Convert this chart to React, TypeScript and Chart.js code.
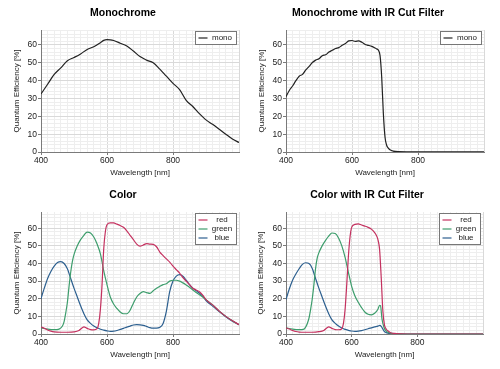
import React, { useEffect, useRef } from 'react';
import { Chart, registerables } from 'chart.js';
Chart.register(...registerables);

const FONT = "'Liberation Sans', Arial, Helvetica, sans-serif";

// ---- axis / tick labels ----
const X_MIN = 400;
const X_MAX = 1000;
const X_LABELS = [400, 600, 800];
const Y_LABELS = [0, 10, 20, 30, 40, 50, 60];
const X_MINOR_STEP = 20;
const Y_MINOR_STEP = 2;
const X_TITLE = 'Wavelength [nm]';
const Y_TITLE = 'Quantum Efficiency [%]';

// ---- Monochrome ----
const monoWl = [400, 420, 440, 460, 480, 500, 520, 540, 560, 580, 590, 600, 610, 620, 640, 660, 680, 700, 720, 740, 760, 780, 800, 820, 840, 860, 880, 900, 920, 940, 960, 980, 1000];
const monoQe = [32.5, 38, 43.5, 47.2, 51.2, 53, 55, 57.5, 59, 61.3, 62.6, 63, 62.9, 62.5, 61, 59.4, 56.6, 53.5, 51.5, 50, 46.5, 42.5, 38.5, 35, 29, 25.5, 21.5, 18, 15.5, 12.8, 10, 7.3, 5.3];

// ---- Monochrome with IR cut filter ----
const monoIrWl = [400, 410, 420, 430, 440, 450, 460, 470, 480, 490, 500, 510, 520, 530, 540, 550, 560, 570, 580, 590, 600, 610, 620, 630, 640, 650, 660, 670, 675, 680, 685, 690, 695, 700, 705, 710, 715, 725, 740, 800, 900, 1000];
const monoIrQe = [31, 34.5, 37, 40, 42.5, 43.5, 46, 48, 50.2, 51.5, 52.3, 54, 54.5, 56, 57, 58, 58.5, 59.8, 60.8, 62.3, 62.5, 62, 62.3, 61.5, 60.3, 59.8, 59.2, 58.3, 57.8, 57, 54, 42, 21.6, 8.4, 3.8, 2.2, 1.3, 0.5, 0.2, 0.1, 0.1, 0.1];

// ---- Color ----
const redWl = [400, 410, 420, 430, 440, 460, 480, 500, 515, 525, 530, 540, 550, 560, 570, 575, 580, 585, 590, 595, 600, 610, 620, 630, 640, 650, 660, 670, 680, 690, 700, 710, 720, 730, 740, 750, 760, 770, 780, 790, 800, 810, 820, 830, 840, 850, 860, 870, 880, 890, 900, 920, 940, 960, 980, 1000];
const redQe = [4, 3.2, 2.3, 1.6, 1.2, 1, 1, 1.2, 2, 3.5, 4, 3.2, 2.5, 2.3, 3, 6, 14, 28, 48, 58, 62, 63, 63, 62.3, 61.5, 60.5, 58.5, 56, 53.5, 51, 49.8, 50.5, 51.3, 51, 50.8, 49.5, 46.5, 44.5, 42.6, 40.8, 38.5, 36.5, 34.5, 32, 30, 28, 26, 25, 24, 22, 19.5, 16.5, 13, 10, 7.5, 5.3];
const greenWl = [400, 420, 440, 455, 465, 470, 475, 480, 485, 490, 495, 500, 510, 520, 530, 540, 550, 560, 570, 580, 590, 600, 610, 620, 630, 640, 650, 660, 670, 680, 690, 700, 710, 720, 730, 740, 750, 760, 770, 780, 790, 800, 810, 820, 830, 840, 850, 860, 870, 880, 890, 900, 920, 940, 960, 980, 1000];
const greenQe = [3.5, 2.8, 2.5, 2.8, 4.5, 7, 12, 18, 27, 35, 41, 45, 50, 53.5, 56, 57.8, 57.3, 55, 51, 45.5, 36, 28, 21, 17, 14.5, 12.5, 11.5, 11.5, 13.5, 17.5, 21, 23, 24, 23.5, 23, 24.5, 26, 27, 28, 28.5, 30, 30.5, 30.5, 30, 29, 27.8, 26.5, 25, 23.5, 22.3, 21, 19.5, 16.5, 13, 10, 7.5, 5.2];
const blueWl = [400, 410, 420, 430, 440, 450, 460, 470, 480, 490, 500, 510, 520, 530, 540, 550, 560, 570, 580, 590, 600, 610, 620, 630, 640, 650, 660, 670, 680, 690, 700, 710, 720, 730, 740, 750, 760, 770, 780, 790, 800, 810, 820, 830, 840, 850, 860, 870, 880, 890, 900, 920, 940, 960, 980, 1000];
const blueQe = [20, 26, 31.5, 35.5, 38.5, 40.5, 41, 40, 37, 31.5, 26, 21, 16, 11.5, 8, 6, 4.5, 3.5, 2.7, 2.2, 1.8, 1.5, 1.6, 2, 2.6, 3.2, 3.9, 4.5, 5.1, 5.3, 5.2, 4.9, 4.3, 3.6, 3.3, 3.3, 3.8, 6, 13, 24, 30, 32.8, 33.7, 32.8, 30.5, 28, 26, 24.6, 23.2, 21.5, 19, 15.8, 12.8, 9.8, 7.3, 5.3];

// ---- Color with IR cut filter ----
const redIrWl = [400, 410, 420, 430, 440, 460, 480, 500, 515, 525, 530, 540, 550, 560, 570, 575, 580, 585, 590, 595, 600, 610, 620, 630, 640, 650, 660, 670, 675, 680, 685, 690, 695, 700, 705, 710, 720, 730, 750, 800, 900, 1000];
const redIrQe = [3.5, 2.8, 2, 1.4, 1.1, 1, 1, 1.3, 2, 3.5, 4, 3.2, 2.5, 2.4, 3, 6, 14, 28, 44, 55, 60.5, 62.2, 62.5, 61.8, 61.2, 60.5, 59.5, 57.5, 56, 53.5, 48, 32, 13, 5, 2.8, 1.8, 0.6, 0.3, 0.1, 0, 0, 0];
const greenIrWl = [400, 420, 440, 455, 460, 465, 470, 475, 480, 485, 490, 495, 500, 510, 520, 530, 540, 550, 560, 570, 580, 590, 600, 610, 620, 630, 640, 650, 660, 670, 680, 685, 688, 692, 695, 700, 705, 710, 720, 740, 800, 1000];
const greenIrQe = [3.5, 2.8, 2.5, 2.8, 4, 6, 9, 14, 20, 28, 37, 43, 46, 50, 53, 55.5, 57.3, 57, 54.5, 50, 43.5, 35, 27, 21.5, 18, 15, 12.5, 11.2, 10.9, 11.8, 14, 16.3, 16, 9, 6, 3, 1.8, 1, 0.4, 0.1, 0, 0];
const blueIrWl = [400, 410, 420, 430, 440, 450, 460, 470, 480, 490, 500, 510, 520, 530, 540, 550, 560, 570, 580, 590, 600, 610, 620, 630, 640, 650, 660, 670, 680, 686, 690, 695, 700, 705, 710, 720, 740, 800, 1000];
const blueIrQe = [19.5, 25.5, 30.5, 34, 37, 39.5, 40.4, 40, 37.2, 31.5, 26, 21, 16, 11.5, 8, 6, 4.5, 3.4, 2.6, 2.1, 1.7, 1.5, 1.6, 1.9, 2.4, 3, 3.5, 4, 4.5, 4.9, 4.3, 2.8, 1.3, 0.8, 0.5, 0.3, 0.1, 0, 0];

// ---- styles ----
const MONO = '#222222';
const RED = '#c4315f';
const GREEN = '#3d9d6c';
const BLUE = '#2c5f8f';
const MAJOR_GRID = '#d9d9d9';
const MINOR_GRID = '#eeeeee';
const AXIS = '#7a7a7a';

type Series = { label: string; color: string; wl: number[]; qe: number[] };
type PanelCfg = { title: string; series: Series[]; left: number; top: number; padL: number; padR: number; yAxisW: number; yMax: number };

function gridValues(min: number, max: number, step: number) {
  const out: { value: number }[] = [];
  for (let v = min; v <= max + 1e-9; v += step) out.push({ value: Math.round(v * 1000) / 1000 });
  return out;
}

const boxLegend = {
  id: 'boxLegend',
  afterDatasetsDraw(chart: any) {
    const { ctx, chartArea } = chart;
    const ds = chart.data.datasets;
    const rowH = 9;
    const boxW = 41;
    const boxH = ds.length * rowH + 4;
    const x1 = Math.round(chartArea.right - 3 - boxW) + 0.5;
    const y1 = Math.round(chartArea.top + 1) + 0.5;
    ctx.save();
    ctx.fillStyle = '#ffffff';
    ctx.fillRect(x1, y1, boxW, boxH);
    ctx.strokeStyle = '#777777';
    ctx.lineWidth = 1;
    ctx.strokeRect(x1, y1, boxW, boxH);
    ctx.font = `8px ${FONT}`;
    ctx.textAlign = 'center';
    ctx.textBaseline = 'middle';
    ds.forEach((d: any, i: number) => {
      const cy = y1 + 2 + rowH * (i + 0.5);
      ctx.strokeStyle = d.borderColor;
      ctx.lineWidth = 1.2;
      ctx.beginPath();
      ctx.moveTo(x1 + 3, cy);
      ctx.lineTo(x1 + 12, cy);
      ctx.stroke();
      ctx.fillStyle = '#222222';
      ctx.fillText(d.label, x1 + 26.5, cy);
    });
    ctx.restore();
  },
};

function Panel({ cfg }: { cfg: PanelCfg }) {
  const ref = useRef<HTMLCanvasElement | null>(null);
  useEffect(() => {
    const tickFont = { family: FONT, size: 8.5 };
    const titleFont = { family: FONT, size: 8 };
    const chart = new Chart(ref.current as HTMLCanvasElement, {
      type: 'line',
      data: {
        datasets: cfg.series.map((s) => ({
          label: s.label,
          data: s.wl.map((x, i) => ({ x, y: s.qe[i] })),
          borderColor: s.color,
          backgroundColor: s.color,
          borderWidth: 1.2,
          pointRadius: 0,
          cubicInterpolationMode: 'monotone',
          fill: false,
        })),
      },
      options: {
        responsive: false,
        animation: false,
        devicePixelRatio: 1,
        layout: { padding: { left: cfg.padL, right: cfg.padR, top: 0, bottom: 0 } },
        plugins: {
          legend: { display: false },
          tooltip: { enabled: false },
          title: {
            display: true,
            text: cfg.title,
            color: '#000000',
            font: { family: FONT, size: 10.5, weight: 'bold' },
            padding: { top: 6.7, bottom: 10.7 },
          },
        },
        scales: {
          x: {
            type: 'linear',
            min: X_MIN,
            max: X_MAX,
            afterBuildTicks: (s: any) => { s.ticks = gridValues(X_MIN, X_MAX, X_MINOR_STEP); },
            afterFit: (s: any) => { s.height = 33; },
            ticks: {
              autoSkip: false,
              maxRotation: 0,
              padding: 1,
              color: '#222222',
              font: tickFont,
              callback: (v: any) => (X_LABELS.includes(Number(v)) ? String(v) : ''),
            },
            grid: {
              color: (c: any) => (c.tick && c.tick.value % 200 === 0 ? MAJOR_GRID : MINOR_GRID),
              tickColor: (c: any) => (c.tick && X_LABELS.includes(c.tick.value) ? AXIS : 'rgba(0,0,0,0)'),
              tickLength: 3,
              lineWidth: 1,
            },
            border: { color: AXIS, width: 1 },
            title: { display: true, text: X_TITLE, color: '#222222', font: titleFont, padding: { top: 0, bottom: 7.2 } },
          },
          y: {
            type: 'linear',
            min: 0,
            max: cfg.yMax,
            afterBuildTicks: (s: any) => { s.ticks = gridValues(0, cfg.yMax, Y_MINOR_STEP); },
            afterFit: (s: any) => { s.width = cfg.yAxisW; },
            ticks: {
              autoSkip: false,
              padding: 1,
              color: '#222222',
              font: tickFont,
              callback: (v: any) => (Y_LABELS.includes(Number(v)) ? String(v) : ''),
            },
            grid: {
              color: (c: any) => (c.tick && c.tick.value % 10 === 0 ? MAJOR_GRID : MINOR_GRID),
              tickColor: (c: any) => (c.tick && Y_LABELS.includes(c.tick.value) ? AXIS : 'rgba(0,0,0,0)'),
              tickLength: 3,
              lineWidth: 1,
            },
            border: { color: AXIS, width: 1 },
            title: { display: true, text: Y_TITLE, color: '#222222', font: titleFont, padding: { top: 5, bottom: 0 } },
          },
        },
      } as any,
      plugins: [boxLegend],
    });
    return () => chart.destroy();
  }, [cfg]);
  return (
    <canvas
      ref={ref}
      width={250}
      height={185}
      style={{ position: 'absolute', left: cfg.left, top: cfg.top, width: 250, height: 185 }}
    />
  );
}

const PANELS: PanelCfg[] = [
  { title: 'Monochrome', left: 0, top: 0, padL: 7, padR: 11, yAxisW: 34, yMax: 68.4,
    series: [{ label: 'mono', color: MONO, wl: monoWl, qe: monoQe }] },
  { title: 'Monochrome with IR Cut Filter', left: 250, top: 0, padL: 2, padR: 16, yAxisW: 34, yMax: 68.4,
    series: [{ label: 'mono', color: MONO, wl: monoIrWl, qe: monoIrQe }] },
  { title: 'Color', left: 0, top: 182, padL: 7, padR: 11, yAxisW: 34, yMax: 69.2,
    series: [
      { label: 'red', color: RED, wl: redWl, qe: redQe },
      { label: 'green', color: GREEN, wl: greenWl, qe: greenQe },
      { label: 'blue', color: BLUE, wl: blueWl, qe: blueQe },
    ] },
  { title: 'Color with IR Cut Filter', left: 250, top: 182, padL: 1, padR: 17, yAxisW: 35, yMax: 69.2,
    series: [
      { label: 'red', color: RED, wl: redIrWl, qe: redIrQe },
      { label: 'green', color: GREEN, wl: greenIrWl, qe: greenIrQe },
      { label: 'blue', color: BLUE, wl: blueIrWl, qe: blueIrQe },
    ] },
];

export default function App() {
  return (
    <div style={{ position: 'absolute', left: 0, top: 0, width: 500, height: 369, background: '#ffffff', overflow: 'hidden' }}>
      {PANELS.map((p) => (
        <Panel key={p.title} cfg={p} />
      ))}
    </div>
  );
}
